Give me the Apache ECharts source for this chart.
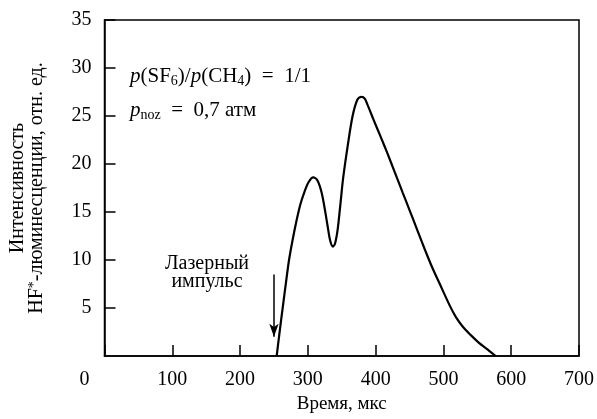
<!DOCTYPE html>
<html>
<head>
<meta charset="utf-8">
<script src="https://cdn.jsdelivr.net/npm/echarts@6/dist/echarts.min.js"></script>
<style>html,body{margin:0;padding:0;background:#fff}#c{width:597px;height:419px}</style>
</head>
<body>
<div id="c"></div>
<script>
var timeUs = [254, 258, 263, 268, 272, 277, 283, 289, 295, 301, 308, 314, 320, 325, 329, 333, 337, 340, 344, 348, 352, 359, 366, 373, 379, 384, 389, 397, 407, 418, 429, 440, 450, 461, 472, 483, 494, 509, 518, 528, 540, 552, 565, 577];
var intensity = [0, 2.3, 5.1, 7.8, 9.9, 11.9, 14.0, 15.8, 17.1, 18.1, 18.6, 18.3, 17.1, 15.3, 13.6, 12.0, 11.4, 11.7, 13.2, 15.8, 18.5, 22, 25, 26.7, 27.0, 26.8, 26.0, 24.6, 22.9, 21.0, 19.0, 17.0, 15.2, 13.2, 11.2, 9.3, 7.6, 5.3, 4.1, 3.1, 2.2, 1.4, 0.7, 0];
var xTicks = [0, 100, 200, 300, 400, 500, 600, 700];
var yTicks = [0, 5, 10, 15, 20, 25, 30, 35];
var arrowX = 250, arrowFrom = 8.5, arrowTo = 2.0;

var FONT = '"Liberation Serif", "DejaVu Serif", serif';
var chart = echarts.init(document.getElementById('c'));
var pts = timeUs.map(function (t, i) { return [t, intensity[i]]; });

chart.setOption({
  animation: false,
  backgroundColor: '#fff',
  grid: { left: 100, right: 16, top: 20, bottom: 61, show: true, borderColor: '#000', borderWidth: 1.5 },
  xAxis: {
    type: 'value', min: xTicks[0], max: xTicks[xTicks.length - 1], interval: 100,
    name: 'Время, мкс', nameLocation: 'middle', nameGap: 39,
    nameTextStyle: { fontFamily: FONT, fontSize: 19, color: '#000' },
    axisLine: { lineStyle: { color: '#000', width: 1.5 } },
    axisTick: { inside: true, length: 11, lineStyle: { color: '#000', width: 1.5 } },
    splitLine: { show: false },
    axisLabel: {
      margin: 14, fontFamily: FONT, fontSize: 20, color: '#000',
      formatter: function (v) { return v === 0 ? '{z|0}' : String(v); },
      rich: { z: { fontFamily: FONT, fontSize: 20, color: '#000', padding: [0, 40, 0, 0] } }
    }
  },
  yAxis: {
    type: 'value', min: yTicks[0], max: yTicks[yTicks.length - 1], interval: 5,
    name: '{t|Интенсивность}\n{t|HF}{s|*}{t|-люминесценции, отн. ед.}',
    nameLocation: 'middle', nameGap: 58, nameRotate: 90,
    nameTextStyle: {
      fontFamily: FONT, fontSize: 20, color: '#000', lineHeight: 19,
      rich: {
        t: { fontFamily: FONT, fontSize: 20, color: '#000', lineHeight: 19 },
        s: { fontFamily: FONT, fontSize: 14, color: '#000', verticalAlign: 'top', lineHeight: 19, padding: [0, 0, 8, 0] }
      }
    },
    axisLine: { lineStyle: { color: '#000', width: 1.5 } },
    axisTick: { inside: true, length: 11, lineStyle: { color: '#000', width: 1.5 } },
    splitLine: { show: false },
    axisLabel: { showMinLabel: false, margin: 13, fontFamily: FONT, fontSize: 20, color: '#000' }
  },
  series: [{
    type: 'line', data: pts, smooth: 0.3, showSymbol: false,
    lineStyle: { color: '#000', width: 2.2 },
    markLine: {
      silent: true, symbol: ['none', 'arrow'], symbolSize: [7, 13],
      label: { show: false },
      lineStyle: { color: '#000', width: 1.5, type: 'solid' },
      data: [[{ coord: [arrowX, arrowFrom] }, { coord: [arrowX, arrowTo] }]]
    }
  }],
  graphic: [
    { type: 'text', left: 130, top: 66, style: {
      text: '{i|p}{r|(SF}{b|6}{r|)/}{i|p}{r|(CH}{b|4}{r|)\u2002=\u20021/1}',
      rich: {
        i: { fontFamily: FONT, fontStyle: 'italic', fontSize: 21, fill: '#000' },
        r: { fontFamily: FONT, fontSize: 21, fill: '#000' },
        b: { fontFamily: FONT, fontSize: 14, fill: '#000', padding: [9, 0, 0, 0] }
      } } },
    { type: 'text', left: 130, top: 100, style: {
      text: '{i|p}{b|noz}{r|\u2002=\u20020,7 атм}',
      rich: {
        i: { fontFamily: FONT, fontStyle: 'italic', fontSize: 21, fill: '#000' },
        r: { fontFamily: FONT, fontSize: 21, fill: '#000' },
        b: { fontFamily: FONT, fontSize: 14, fill: '#000', padding: [9, 0, 0, 0] }
      } } },
    { type: 'text', x: 207, y: 255, style: {
      text: 'Лазерный\nимпульс', align: 'center', verticalAlign: 'top',
      fontFamily: FONT, fontSize: 20, lineHeight: 18, fill: '#000' } }
  ]
});
</script>
</body>
</html>
